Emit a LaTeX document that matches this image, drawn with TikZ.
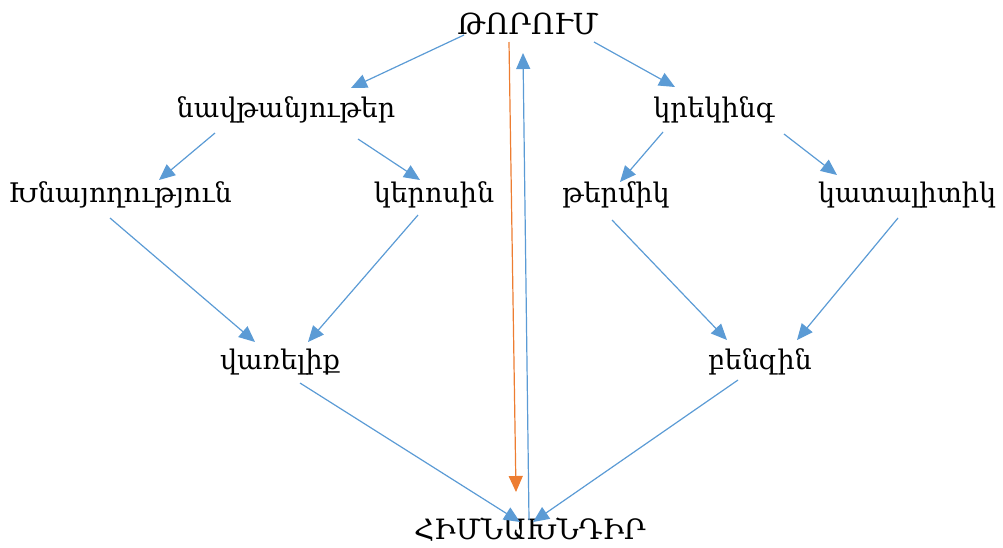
\documentclass[tikz,border=0pt]{standalone}
\usepackage{fontspec}
\setmainfont{DejaVu Serif}
\usepackage{xcolor}
\usetikzlibrary{arrows.meta}

\definecolor{linkblue}{HTML}{5B9BD5}
\definecolor{linkorange}{HTML}{ED7D31}

\begin{document}
\begin{tikzpicture}[
    x=1pt,
    y=-1pt,
    term/.style={
        font=\fontsize{27}{31}\selectfont,
        inner sep=0pt
    },
    bluelink/.style={
        draw=linkblue,
        line width=1.2pt,
        -{Triangle[length=16pt,width=14pt]}
    },
    orangelink/.style={
        draw=linkorange,
        line width=1.2pt,
        -{Triangle[length=16pt,width=14pt]}
    }
]

\useasboundingbox (0,0) rectangle (1003,547);

% levels
\node[term,font=\fontsize{29}{33}\selectfont] (torum) at (528,24) {ԹՈՐՈՒՄ};

\node[term] (navt) at (286,110) {նավթանյութեր};
\node[term] (krek) at (714,110) {կրեկինգ};

\node[term] (khna) at (120,195) {Խնայողություն};
\node[term] (kero) at (434,195) {կերոսին};
\node[term] (termik) at (616,195) {թերմիկ};
\node[term] (katal) at (907,195) {կատալիտիկ};

\node[term] (varel) at (280,362) {վառելիք};
\node[term] (benz) at (760,362) {բենզին};

\node[term,font=\fontsize{28}{32}\selectfont] (himn) at (530,530) {ՀԻՄՆԱԽՆԴԻՐ};

% links
\draw[bluelink] ([shift={(-64,11)}]torum.center) -- ([shift={(65,-22)}]navt.center);
\draw[bluelink] ([shift={(66,18)}]torum.center) -- ([shift={(-39,-23)}]krek.center);

\draw[bluelink] ([shift={(-71,23)}]navt.center) -- ([shift={(39,-15)}]khna.center);
\draw[bluelink] ([shift={(72,29)}]navt.center) -- ([shift={(-14,-15)}]kero.center);

\draw[bluelink] ([shift={(-51,22)}]krek.center) -- ([shift={(4,-13)}]termik.center);
\draw[bluelink] ([shift={(70,24)}]krek.center) -- ([shift={(-70,-20)}]katal.center);

\draw[bluelink] ([shift={(-10,23)}]khna.center) -- ([shift={(-25,-20)}]varel.center);
\draw[bluelink] ([shift={(-16,20)}]kero.center) -- ([shift={(28,-20)}]varel.center);

\draw[bluelink] ([shift={(-4,25)}]termik.center) -- ([shift={(-33,-22)}]benz.center);
\draw[bluelink] ([shift={(-9,23)}]katal.center) -- ([shift={(37,-22)}]benz.center);

\draw[bluelink] ([shift={(20,21)}]varel.center) -- ([shift={(-10,-8)}]himn.center);
\draw[bluelink] ([shift={(-22,18)}]benz.center) -- ([shift={(3,-8)}]himn.center);

\draw[orangelink] ([shift={(-19,18)}]torum.center) -- ([shift={(-14,-38)}]himn.center);
\draw[bluelink] ([shift={(-1,-10)}]himn.center) -- ([shift={(-5,29)}]torum.center);

\end{tikzpicture}
\end{document}
